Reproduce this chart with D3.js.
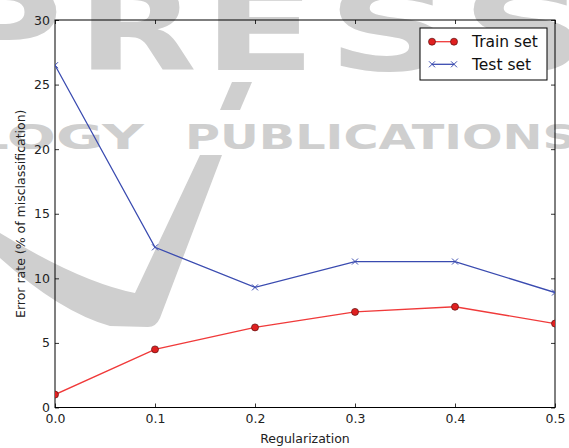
<!DOCTYPE html>
<html lang="en">
<head>
<meta charset="utf-8">
<title>Error rate vs regularization</title>
<style>
  body { margin: 0; background: #ffffff; overflow: hidden; font-family: "DejaVu Sans", sans-serif; }
  .tick text { fill: #222; }
</style>
</head>
<body>
<div id="chart"></div>
<script src="https://cdn.jsdelivr.net/npm/d3@7/dist/d3.min.js"></script>
<script>
// data
var regularization = [0.0, 0.1, 0.2, 0.3, 0.4, 0.5];
var trainError = [1.0, 4.5, 6.2, 7.4, 7.8, 6.5];
var testError = [26.5, 12.4, 9.3, 11.3, 11.3, 8.9];
var xTicks = [0.0, 0.1, 0.2, 0.3, 0.4, 0.5];
var yTicks = [0, 5, 10, 15, 20, 25, 30];
var seriesNames = ["Train set", "Test set"];

var W = 569, H = 448;
var m = {left: 55, top: 20, right: 14, bottom: 40.5};
var pw = W - m.left - m.right, ph = H - m.top - m.bottom;

var svg = d3.select("#chart").append("svg")
    .attr("width", W)
    .attr("height", H);

// publisher watermark (sits behind the axes)
var wm = svg.append("g").attr("fill", "#cfcfcf");
var bigLetters = [["P", -57, 120], ["R", 77, 120], ["E", 203, 113], ["S", 327, 127], ["S", 461, 127]];
wm.selectAll(".big").data(bigLetters).enter().append("text")
    .attr("class", "big")
    .attr("x", function(d) { return d[1]; }).attr("y", 70)
    .attr("font-size", 118).attr("font-weight", "bold")
    .attr("textLength", function(d) { return d[2]; })
    .attr("lengthAdjust", "spacingAndGlyphs")
    .text(function(d) { return d[0]; });
wm.append("text")
    .attr("x", -28).attr("y", 149)
    .attr("font-size", 33).attr("font-weight", "bold")
    .attr("textLength", 172).attr("lengthAdjust", "spacingAndGlyphs")
    .text("LOGY");
wm.append("text")
    .attr("x", 185).attr("y", 149)
    .attr("font-size", 33).attr("font-weight", "bold")
    .attr("textLength", 392).attr("lengthAdjust", "spacingAndGlyphs")
    .text("PUBLICATIONS");
wm.append("path").attr("d", "M232,82 L252,82 L240,110 L220,110 Z");
wm.append("path").attr("d", "M200,155 L222,155 L160,318 Q156,327 148,327 L110,326 Q60,312 0,258 L0,233 Q80,282 135,293 Z");

var g = svg.append("g").attr("transform", "translate(" + m.left + "," + m.top + ")");

var x = d3.scaleLinear().domain([0, 0.5]).range([0, pw]);
var y = d3.scaleLinear().domain([0, 30]).range([ph, 0]);

g.append("clipPath").attr("id", "plotclip")
  .append("rect").attr("width", pw).attr("height", ph);

// axes, ticks pointing inward on all four sides
var fmtX = d3.format(".1f");
var xb = g.append("g").attr("transform", "translate(0," + ph + ")")
    .call(d3.axisBottom(x).tickValues(xTicks).tickFormat(fmtX).tickSizeInner(-4).tickSizeOuter(0).tickPadding(7));
var xt = g.append("g")
    .call(d3.axisTop(x).tickValues(xTicks).tickFormat("").tickSizeInner(-4).tickSizeOuter(0));
var yl = g.append("g")
    .call(d3.axisLeft(y).tickValues(yTicks).tickFormat(d3.format("d")).tickSizeInner(-4).tickSizeOuter(0).tickPadding(5));
var yr = g.append("g").attr("transform", "translate(" + pw + ",0)")
    .call(d3.axisRight(y).tickValues(yTicks).tickFormat("").tickSizeInner(-4).tickSizeOuter(0));

[xb, xt, yl, yr].forEach(function(a) {
  a.select(".domain").remove();
  a.selectAll(".tick line").attr("stroke", "#000").attr("stroke-width", 0.8);
  a.selectAll(".tick text").attr("font-size", 12.5).attr("font-family", "DejaVu Sans, sans-serif");
});

g.append("rect")
    .attr("width", pw).attr("height", ph)
    .attr("fill", "none").attr("stroke", "#000").attr("stroke-width", 1);

// series
var trainPts = regularization.map(function(d, i) { return [d, trainError[i]]; });
var testPts = regularization.map(function(d, i) { return [d, testError[i]]; });
var line = d3.line().x(function(d) { return x(d[0]); }).y(function(d) { return y(d[1]); });

var plot = g.append("g").attr("clip-path", "url(#plotclip)");

plot.append("path").datum(testPts)
    .attr("d", line).attr("fill", "none")
    .attr("stroke", "#3a4bb0").attr("stroke-width", 1.3);
plot.selectAll(".xm").data(testPts).enter().append("path")
    .attr("class", "xm")
    .attr("transform", function(d) { return "translate(" + x(d[0]) + "," + y(d[1]) + ")"; })
    .attr("d", "M-3,-3L3,3M-3,3L3,-3")
    .attr("stroke", "#3a4bb0").attr("stroke-width", 1);

plot.append("path").datum(trainPts)
    .attr("d", line).attr("fill", "none")
    .attr("stroke", "#f03a3a").attr("stroke-width", 1.3);
plot.selectAll(".om").data(trainPts).enter().append("circle")
    .attr("class", "om")
    .attr("cx", function(d) { return x(d[0]); })
    .attr("cy", function(d) { return y(d[1]); })
    .attr("r", 3.5)
    .attr("fill", "#e02020").attr("stroke", "#5a1010").attr("stroke-width", 0.7);

// axis titles
svg.append("text")
    .attr("x", m.left + pw / 2).attr("y", 443)
    .attr("text-anchor", "middle").attr("font-size", 12.5).attr("fill", "#222")
    .text("Regularization");
svg.append("text")
    .attr("transform", "translate(25," + (m.top + ph / 2) + ") rotate(-90)")
    .attr("text-anchor", "middle").attr("font-size", 12.5).attr("fill", "#222")
    .text("Error rate (% of misclassification)");

// legend
var lg = svg.append("g");
lg.append("rect")
    .attr("x", 420).attr("y", 28).attr("width", 127).attr("height", 52)
    .attr("fill", "#fff").attr("stroke", "#000").attr("stroke-width", 1);

var rows = lg.selectAll(".row").data(seriesNames).enter().append("g")
    .attr("transform", function(d, i) { return "translate(0," + (41.7 + i * 22.6) + ")"; });
rows.append("line")
    .attr("x1", 432).attr("x2", 454)
    .attr("stroke", function(d, i) { return i === 0 ? "#f03a3a" : "#3a4bb0"; })
    .attr("stroke-width", 1.3);
rows.filter(function(d, i) { return i === 0; }).selectAll("circle").data([432, 454]).enter().append("circle")
    .attr("cx", function(d) { return d; }).attr("r", 3.5)
    .attr("fill", "#e02020").attr("stroke", "#5a1010").attr("stroke-width", 0.7);
rows.filter(function(d, i) { return i === 1; }).selectAll("path").data([432, 454]).enter().append("path")
    .attr("transform", function(d) { return "translate(" + d + ",0)"; })
    .attr("d", "M-3,-3L3,3M-3,3L3,-3")
    .attr("stroke", "#3a4bb0").attr("stroke-width", 1);
rows.append("text")
    .attr("x", 472).attr("y", 5.5)
    .attr("font-size", 15.5).attr("fill", "#111")
    .text(function(d) { return d; });
</script>
</body>
</html>
